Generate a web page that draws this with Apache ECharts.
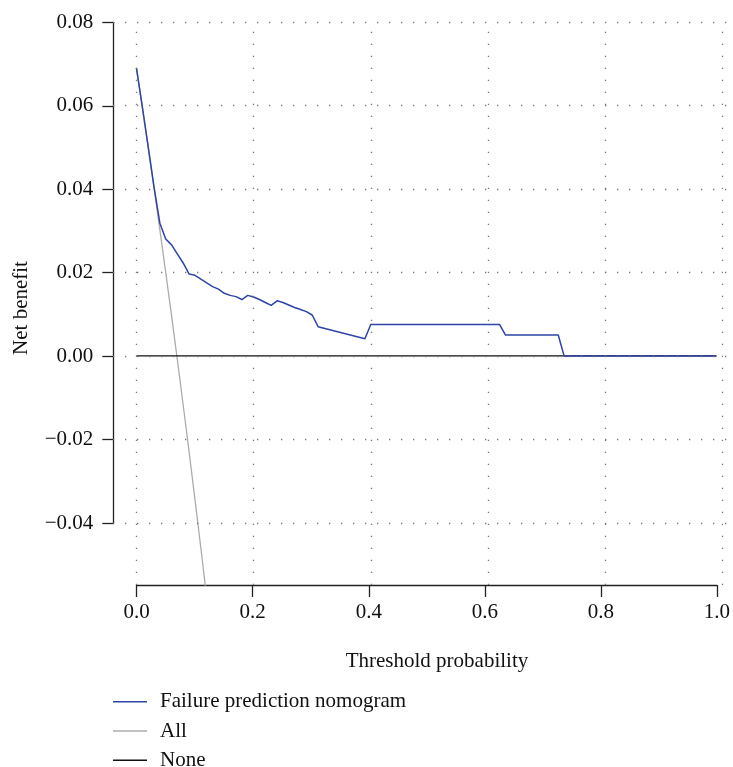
<!DOCTYPE html>
<html>
<head>
<meta charset="utf-8">
<script src="https://cdn.jsdelivr.net/npm/echarts@6/dist/echarts.min.js"></script>
<style>
html,body{margin:0;padding:0;background:#fff;}
#chart{width:733px;height:767px;}
</style>
</head>
<body>
<div id="chart"></div>
<script>
// ---- data ----
const seriesNames = ['Failure prediction nomogram', 'All', 'None'];
const modelX = [0, 0.01, 0.02, 0.03, 0.04, 0.05, 0.06, 0.07, 0.08, 0.09, 0.10, 0.11, 0.12, 0.13, 0.14, 0.15, 0.16, 0.17, 0.18, 0.19, 0.20, 0.21, 0.22, 0.23, 0.24, 0.25, 0.26, 0.27, 0.28, 0.29, 0.30, 0.31, 0.39, 0.40, 0.62, 0.63, 0.72, 0.73, 0.99];
const modelY = [0.0690, 0.0597, 0.0502, 0.0405, 0.0318, 0.0280, 0.0266, 0.0244, 0.0222, 0.0196, 0.0193, 0.0184, 0.0175, 0.0166, 0.0160, 0.0150, 0.0145, 0.0142, 0.0135, 0.0145, 0.0141, 0.0135, 0.0128, 0.0121, 0.0132, 0.0128, 0.0122, 0.0116, 0.0111, 0.0106, 0.0098, 0.0070, 0.0041, 0.0075, 0.0075, 0.0050, 0.0050, 0.0000, 0.0000];
const allX = [0, 0.01, 0.02, 0.03, 0.04, 0.05, 0.06, 0.07, 0.08, 0.09, 0.10, 0.11, 0.12];
const allY = [0.0690, 0.0596, 0.0500, 0.0402, 0.0302, 0.0200, 0.0096, -0.0011, -0.0120, -0.0231, -0.0345, -0.0461, -0.0580];
const noneX = [0, 0.99];
const noneY = [0, 0];
const xTicks = [0, 0.2, 0.4, 0.6, 0.8, 1.0];
const xTickLabels = ['0.0', '0.2', '0.4', '0.6', '0.8', '1.0'];
const yTicks = [-0.04, -0.02, 0, 0.02, 0.04, 0.06, 0.08];
const yTickLabels = ['\u22120.04', '\u22120.02', '0.00', '0.02', '0.04', '0.06', '0.08'];
const xTitle = 'Threshold probability';
const yTitle = 'Net benefit';

// ---- styling ----
const FONT = '"Liberation Serif", "DejaVu Serif", serif';
const FS = 21;
const BLUE = '#2E44A6';
const GRAY = '#ABABAB';
const BLACK = '#111111';
const AXIS = '#222222';

function pairs(xs, ys) { return xs.map((x, i) => [x, ys[i]]); }
function lookup(ticks, labels) {
  return v => {
    for (let i = 0; i < ticks.length; i++) if (Math.abs(ticks[i] - v) < 1e-9) return labels[i];
    return '';
  };
}

const chart = echarts.init(document.getElementById('chart'), null, {renderer: 'canvas'});
const option = {
  backgroundColor: '#ffffff',
  animation: false,
  textStyle: {fontFamily: FONT},
  grid: [
    {left: 113, right: 0, top: 22, bottom: 182},
    {left: 136.7, right: 10.7, top: 22.3, bottom: 244}
  ],
  xAxis: [
    {gridIndex: 0, type: 'value', min: -0.04, max: 1.0183, show: false},
    {gridIndex: 1, type: 'value', min: 0, max: 1, interval: 0.2, offset: 62, position: 'bottom',
     axisLine: {show: true, onZero: false, lineStyle: {color: AXIS, width: 1.3}},
     axisTick: {show: true, length: 12, lineStyle: {color: AXIS, width: 1.3}},
     axisLabel: {show: true, margin: 17, fontSize: FS, color: BLACK, fontFamily: FONT,
                 formatter: lookup(xTicks, xTickLabels)},
     splitLine: {show: false}}
  ],
  yAxis: [
    {gridIndex: 0, type: 'value', min: -0.0549, max: 0.08, show: false},
    {gridIndex: 1, type: 'value', min: -0.04, max: 0.08, interval: 0.02, offset: 23.4, position: 'left',
     axisLine: {show: true, onZero: false, lineStyle: {color: AXIS, width: 1.3}},
     axisTick: {show: true, length: 11, lineStyle: {color: AXIS, width: 1.3}},
     axisLabel: {show: true, margin: 20, fontSize: FS, color: BLACK, fontFamily: FONT,
                 formatter: lookup(yTicks, yTickLabels)},
     splitLine: {show: false}}
  ],
  legend: {
    orient: 'vertical', left: 113, top: 691.2, height: 200, padding: 0,
    itemWidth: 34, itemHeight: 1.5, itemGap: 8.3,
    icon: 'rect',
    textStyle: {fontSize: FS, color: BLACK, fontFamily: FONT, lineHeight: 21, padding: [0, 0, 0, 8]},
    data: seriesNames
  },
  graphic: [
    {type: 'text', x: 437, y: 661,
     style: {text: xTitle, font: FS + 'px ' + FONT, fill: BLACK, textAlign: 'center', textVerticalAlign: 'middle'}},
    {type: 'text', x: 21, y: 308, rotation: Math.PI / 2,
     style: {text: yTitle, font: FS + 'px ' + FONT, fill: BLACK, textAlign: 'center', textVerticalAlign: 'middle'}}
  ],
  series: [
    {
      name: 'grid', type: 'line', xAxisIndex: 0, yAxisIndex: 0, data: [], z: 1, silent: true,
      markLine: {
        silent: true, symbol: ['none', 'none'], label: {show: false},
        lineStyle: {color: '#777777', type: [1.3, 10.7], width: 1.3},
        emphasis: {disabled: true},
        data: xTicks.map(v => ({xAxis: v})).concat(yTicks.map(v => ({yAxis: v})))
      }
    },
    {name: seriesNames[1], type: 'line', xAxisIndex: 0, yAxisIndex: 0, data: pairs(allX, allY),
     symbol: 'none', z: 2, lineStyle: {color: GRAY, width: 1.3}, itemStyle: {color: GRAY}, clip: true},
    {name: seriesNames[2], type: 'line', xAxisIndex: 0, yAxisIndex: 0, data: pairs(noneX, noneY),
     symbol: 'none', z: 3, lineStyle: {color: BLACK, width: 1.3}, itemStyle: {color: BLACK}, clip: true},
    {name: seriesNames[0], type: 'line', xAxisIndex: 0, yAxisIndex: 0, data: pairs(modelX, modelY),
     symbol: 'none', z: 4, lineStyle: {color: BLUE, width: 1.5}, itemStyle: {color: BLUE}, clip: true}
  ]
};
chart.setOption(option);
</script>
</body>
</html>
